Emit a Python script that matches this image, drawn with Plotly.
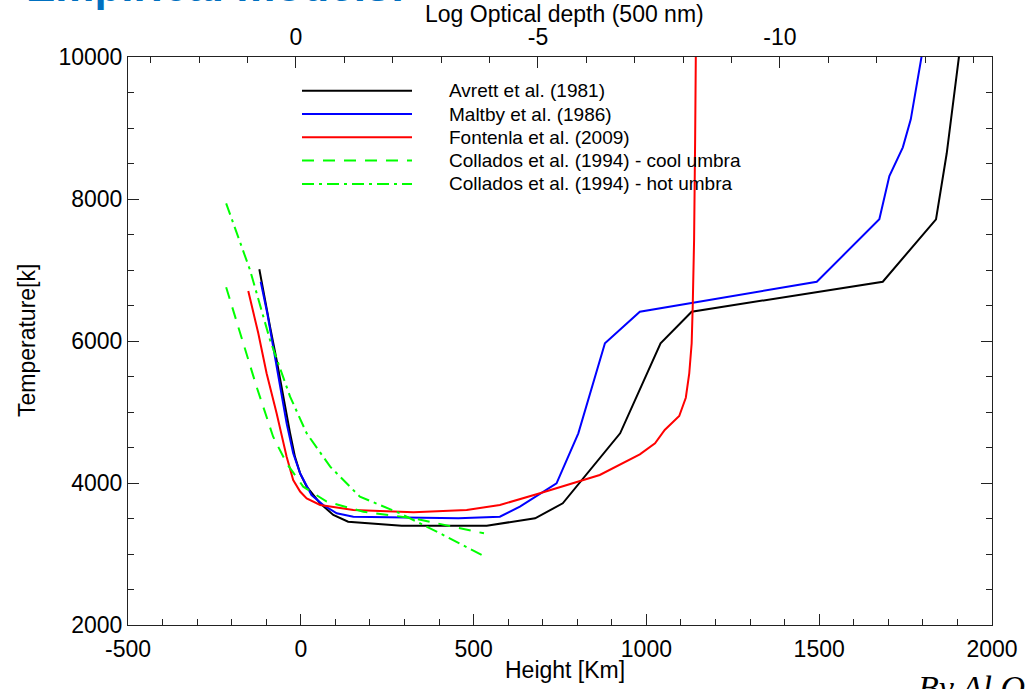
import plotly.graph_objects as go

# ---------------- data ----------------
avrett_h = [-120, -104, -89, -70, -51, -31, -17, -2, 17, 56, 94, 137, 292, 538, 678, 758, 924, 1041, 1131, 1684, 1838, 1869, 1905]
avrett_t = [7010, 6577, 6202, 5732, 5216, 4700, 4371, 4136, 3948, 3714, 3549, 3455, 3399, 3399, 3503, 3714, 4700, 5968, 6413, 6835, 7714, 8644, 10028]

maltby_h = [-116, -97, -80, -60, -41, -22, -2, 31, 65, 104, 152, 456, 576, 634, 740, 803, 880, 981, 1493, 1674, 1703, 1742, 1765, 1797]
maltby_t = [6835, 6390, 5920, 5357, 4840, 4418, 4136, 3831, 3690, 3573, 3526, 3503, 3526, 3667, 3995, 4700, 5968, 6413, 6835, 7714, 8324, 8728, 9122, 10028]

fontenla_h = [-152, -123, -99, -70, -41, -22, -2, 17, 56, 152, 326, 480, 576, 692, 865, 981, 1025, 1053, 1095, 1114, 1124, 1131, 1134, 1138, 1141, 1143]
fontenla_t = [6704, 6108, 5545, 4981, 4371, 4042, 3880, 3784, 3690, 3620, 3587, 3620, 3690, 3855, 4113, 4404, 4559, 4746, 4944, 5201, 5545, 5968, 6484, 7423, 8831, 10028]

cool_h = [-216, -176, -128, -80, -41, 7, 75, 181, 326, 530]
cool_t = [6756, 6108, 5357, 4652, 4277, 3948, 3737, 3596, 3503, 3291]

hot_h = [-216, -147, -89, -31, 17, 85, 171, 287, 403, 533]
hot_t = [7939, 7000, 6014, 5216, 4700, 4230, 3807, 3573, 3291, 2962]

series_names = ["Avrett et al. (1981)", "Maltby et al. (1986)", "Fontenla et al. (2009)",
                "Collados et al. (1994) - cool umbra", "Collados et al. (1994) - hot umbra"]

x_ticks = [-500, 0, 500, 1000, 1500, 2000]
y_ticks = [2000, 4000, 6000, 8000, 10000]
tau_ticks = [0, -5, -10]

# ---------------- styles ----------------
colors = ["#000000", "#0000FF", "#FF0000", "#00FF00", "#00FF00"]
dashes = ["solid", "solid", "solid", "12px,9px", "12px,5px,3px,5px"]
FONT = "Liberation Sans, Arial, Helvetica, sans-serif"

fig = go.Figure()
data = [(avrett_h, avrett_t), (maltby_h, maltby_t), (fontenla_h, fontenla_t),
        (cool_h, cool_t), (hot_h, hot_t)]
for (h, t), name, c, d in zip(data, series_names, colors, dashes):
    fig.add_trace(go.Scatter(x=h, y=t, mode="lines", name=name, showlegend=False,
                             line=dict(color=c, width=2, dash=d)))

# dummy trace to create top (optical depth) axis
fig.add_trace(go.Scatter(x=[], y=[], xaxis="x2", yaxis="y", showlegend=False, hoverinfo="skip"))

W, H = 1032, 689
L, R, T, B = 128, 40, 57, 64
pw, ph = W - L - R, H - T - B

axis_common = dict(showgrid=False, zeroline=False, showline=True, linecolor="#222222", linewidth=1,
                   ticks="inside", ticklen=11, tickwidth=1, tickcolor="#222222",
                   tickfont=dict(family=FONT, size=23, color="#000000"))

fig.update_layout(
    width=W, height=H,
    margin=dict(l=L, r=R, t=T, b=B),
    paper_bgcolor="white", plot_bgcolor="white",
    xaxis=dict(range=[-500, 2000], tickvals=x_ticks, ticktext=[str(v) for v in x_ticks],
               ticklabelstandoff=3,
               minor=dict(dtick=100, tick0=0, ticks="inside", ticklen=6, tickcolor="#222222", tickwidth=1),
               **axis_common),
    xaxis2=dict(overlaying="x", side="top", anchor="y", range=[3.47, -14.38],
                tickvals=tau_ticks, ticktext=[str(v) for v in tau_ticks],
                ticklabelstandoff=2,
                minor=dict(dtick=1, tick0=0, ticks="inside", ticklen=6, tickcolor="#222222", tickwidth=1),
                **axis_common),
    yaxis=dict(range=[2000, 10000], tickvals=y_ticks, ticktext=[str(v) for v in y_ticks], mirror="ticks",
               minor=dict(dtick=500, tick0=0, ticks="inside", ticklen=6, tickcolor="#222222", tickwidth=1),
               **axis_common),
)

def px_x(p):
    return (p - L) / pw

def px_y(p):
    return (H - B - p) / ph

ann = []
ann.append(dict(text="Log Optical depth (500 nm)", xref="paper", yref="paper", x=px_x(564), y=px_y(14),
                xanchor="center", yanchor="middle", showarrow=False,
                font=dict(family=FONT, size=23, color="black")))
ann.append(dict(text="Height [Km]", xref="paper", yref="paper", x=px_x(565), y=px_y(670),
                xanchor="center", yanchor="middle", showarrow=False,
                font=dict(family=FONT, size=23, color="black")))
ann.append(dict(text="Temperature[k]", xref="paper", yref="paper", x=px_x(27), y=px_y(341),
                xanchor="center", yanchor="middle", showarrow=False, textangle=-90,
                font=dict(family=FONT, size=23, color="black")))
# slide fragments (clipped at page edges, as in the reference)
ann.append(dict(text="<b>Empirical models:</b>", xref="paper", yref="paper", x=px_x(24), y=px_y(12.5),
                xanchor="left", yanchor="bottom", showarrow=False,
                font=dict(family=FONT, size=44, color="#0070C0")))
ann.append(dict(text="<i>By Al O</i>", xref="paper", yref="paper", x=px_x(916), y=px_y(667),
                xanchor="left", yanchor="top", showarrow=False,
                font=dict(family="Liberation Serif, Times New Roman, serif", size=34, color="black")))

# legend drawn as line samples + labels
shapes = []
leg_x0, leg_x1, txt_x = 302, 412, 447
row0, step = 90.7, 23.3
for i, (name, c, d) in enumerate(zip(series_names, colors, dashes)):
    yy = px_y(row0 + i * step)
    shapes.append(dict(type="line", xref="paper", yref="paper", x0=px_x(leg_x0), x1=px_x(leg_x1),
                       y0=yy, y1=yy, line=dict(color=c, width=2, dash=d)))
    ann.append(dict(text=name, xref="paper", yref="paper", x=px_x(txt_x), y=yy,
                    xanchor="left", yanchor="middle", showarrow=False,
                    font=dict(family=FONT, size=19, color="black")))

fig.update_layout(annotations=ann, shapes=shapes)
fig.write_html("out.html")
